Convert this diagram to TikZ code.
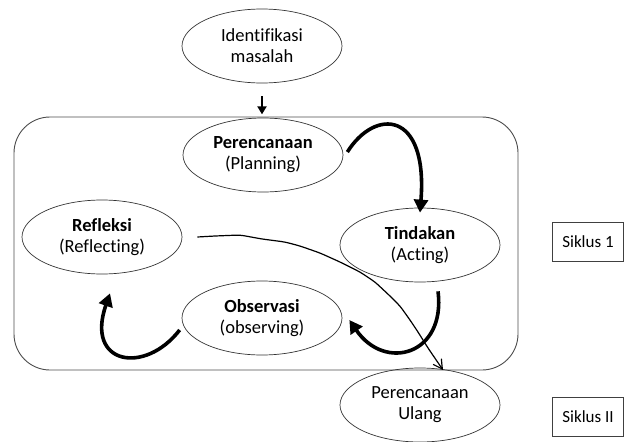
\documentclass[tikz,border=0pt]{standalone}
\usepackage{fontspec}
\setmainfont{Carlito}[Ligatures=NoCommon]
\usetikzlibrary{shapes.geometric,arrows.meta}
\begin{document}
\begin{tikzpicture}[x=1pt,y=-1pt,
  oval/.style={ellipse,draw=black!80,line width=0.7pt,minimum width=160pt,minimum height=74pt,inner sep=0pt,align=center,font=\fontsize{18.5}{21}\selectfont},
  sbox/.style={draw=black!75,line width=0.8pt,minimum width=71pt,minimum height=39pt,inner sep=0pt,font=\fontsize{17}{20}\selectfont},
  bigarrow/.style={line width=3.6pt,-{Triangle[length=13pt,width=14pt]}},
  thinarrow/.style={line width=1.2pt,-{Straight Barb[length=9pt,width=10pt]}}]
\useasboundingbox (0,0) rectangle (625,442);
\draw[black!70,line width=0.9pt,rounded corners=36pt] (14,117) rectangle (518,370);
\node[oval] (id) at (262,46) {Identifikasi\\masalah};
\node[oval] (p) at (263,155) {\textbf{Perencanaan}\\(Planning)};
\node[oval] (t) at (420,245) {\textbf{Tindakan}\\(Acting)};
\node[oval] (r) at (102,237) {\textbf{Refleksi}\\(Reflecting)};
\node[oval] (o) at (262,318) {\textbf{Observasi}\\(observing)};
\node[oval] (pu) at (420,405) {Perencanaan\\Ulang};
\node[sbox] (s1) at (588,242) {Siklus 1};
\node[sbox] (s2) at (588,417) {Siklus II};
% arrow from identification
\draw[line width=2.2pt,-{Triangle[length=8pt,width=9pt]}] (id.south) ++(0,13) coordinate (a1) -- ++(0,18) coordinate (a2);
% cycle arrows
\draw[bigarrow] (p.east) ++(4,-3) .. controls (375,108) and (428,110) .. ([yshift=-5pt]t.north);
\draw[bigarrow] (t.south) ++(18,9) .. controls (446,355) and (385,372) .. ([xshift=7pt,yshift=-2pt]o.east);
\draw[bigarrow] (o.west) ++(-2,12) .. controls (145,375) and (85,365) .. ([xshift=8pt,yshift=-19pt]r.south);
% thin wavy line
\coordinate (w0) at ([xshift=15pt]r.east);
\coordinate (w1) at (443,370);
\draw[thinarrow,rounded corners=4pt] (w0) -- (215,236) -- (240,235) -- (262,239) -- (285,242) -- (300,246) -- (320,253) -- (340,262) -- (360,272) -- (375,282) -- (390,296) -- (400,306) -- (410,320) -- (418,332) -- (428,348) -- (w1);
\end{tikzpicture}
\end{document}
